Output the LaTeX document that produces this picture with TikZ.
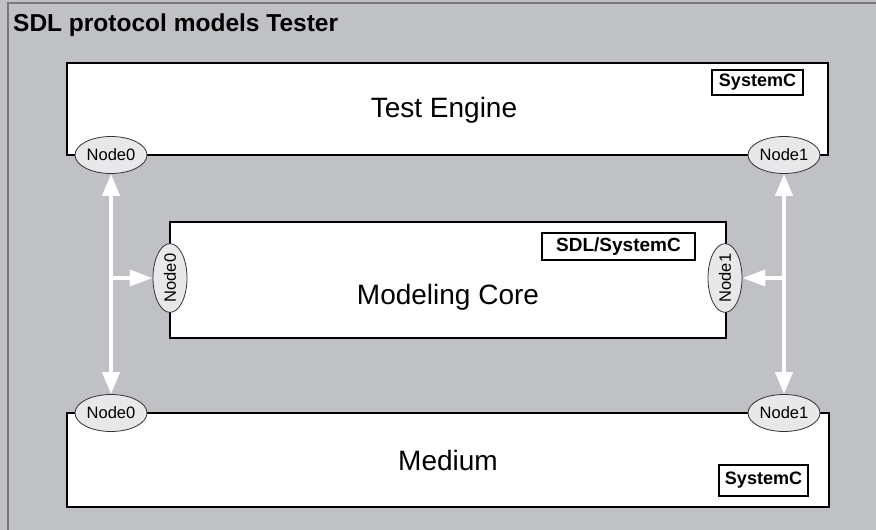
\documentclass[tikz,border=0pt]{standalone}
\usepackage{fontspec}
\setmainfont{Liberation Sans}
\usetikzlibrary{arrows.meta,shapes.geometric}
\definecolor{bggray}{RGB}{192,193,197}
\definecolor{framegray}{RGB}{120,120,122}
\definecolor{ellfill}{RGB}{232,232,234}
\tikzset{
  mainbox/.style={draw=black, line width=2pt, fill=white, rectangle, inner sep=0pt},
  tagbox/.style={draw=black, line width=2pt, fill=white, rectangle, inner sep=0pt, font=\fontsize{18}{20}\selectfont\bfseries},
  bigtext/.style={font=\fontsize{28}{30}\selectfont, inner sep=0pt},
  port/.style={ellipse, draw=black!80, line width=0.8pt, fill=ellfill, minimum width=72pt, minimum height=37pt, inner sep=0pt, font=\fontsize{16.5}{18}\selectfont},
  vport/.style={port, minimum width=68pt, minimum height=34pt, rotate=90},
  warr/.style={draw=white, line width=4pt, {Triangle[width=17pt,length=22pt]}-{Triangle[width=17pt,length=22pt]}},
  warrone/.style={draw=white, line width=4pt, -{Triangle[width=16pt,length=23pt]}},
}
\begin{document}
\begin{tikzpicture}[x=1pt,y=-1pt]
\useasboundingbox (0,0) rectangle (876,530);
\fill[bggray] (0,0) rectangle (876,530);
\draw[framegray, line width=1.5pt] (8,530) -- (8,3) -- (876,3);
\node[anchor=base west, inner sep=0pt, font=\fontsize{24.5}{26}\selectfont\bfseries] (title) at (13,31) {SDL protocol models Tester};

% boxes
\node[mainbox, minimum width=761pt, minimum height=92pt] (te) at (447.5,109) {};
\node[bigtext] (tetext) at (444,110) {Test Engine};
\node[tagbox, minimum width=91pt, minimum height=25pt] (tetag) at (757.5,82.5) {SystemC};

\node[mainbox, minimum width=556pt, minimum height=116pt] (mc) at (448,280) {};
\node[bigtext] (mctext) at (448,297) {Modeling Core};
\node[tagbox, minimum width=153pt, minimum height=27pt, font=\fontsize{19}{21}\selectfont\bfseries] (mctag) at (618.5,246.5) {SDL/SystemC};

\node[mainbox, minimum width=762pt, minimum height=94pt] (me) at (448,460) {};
\node[bigtext] (metext) at (448,460) {Medium};
\node[tagbox, minimum width=89pt, minimum height=31pt] (metag) at (763.5,480.5) {SystemC};

% ports
\node[port] (te0) at (111,155) {Node0};
\node[port] (te1) at (784,155) {Node1};
\node[port] (me0) at (111,413) {Node0};
\node[port] (me1) at (784,413) {Node1};
\node[vport] (mc0) at (170,278) {Node0};
\node[vport] (mc1) at (725,278) {Node1};

% arrows
\draw[warr] (te0.south) -- (me0.north);
\draw[warr] (te1.south) -- (me1.north);
\draw[warrone] (te0.south |- mc0.north) -- (mc0.north);
\draw[warrone] (te1.south |- mc1.south) -- (mc1.south);
\end{tikzpicture}
\end{document}
